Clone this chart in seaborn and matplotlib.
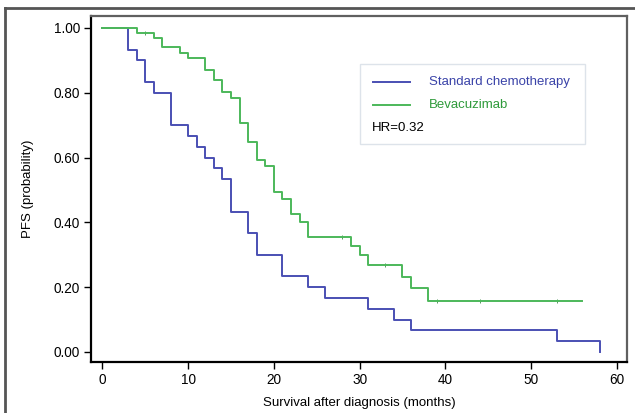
import numpy as np
import pandas as pd
import matplotlib
matplotlib.use('Agg')
import matplotlib.pyplot as plt
from matplotlib.lines import Line2D
from matplotlib.patches import Rectangle
import seaborn as sns

# Kaplan-Meier steps (months, PFS)
std_time = [0, 3, 4, 5, 6, 8, 10, 11, 12, 13, 14, 15, 17, 18, 21, 24, 26, 31, 34, 36, 53, 58]
std_pfs = [1.0, 0.933, 0.9, 0.833, 0.8, 0.7, 0.667, 0.633, 0.6, 0.567, 0.533, 0.433,
           0.367, 0.3, 0.233, 0.2, 0.167, 0.133, 0.1, 0.067, 0.033, 0.0]

bev_time = [0, 4, 6, 7, 9, 10, 12, 13, 14, 15, 16, 17, 18, 19, 20, 21, 22, 23, 24,
            29, 30, 31, 35, 36, 38, 56]
bev_pfs = [1.0, 0.986, 0.969, 0.94, 0.924, 0.907, 0.871, 0.838, 0.802, 0.784, 0.707,
           0.648, 0.594, 0.573, 0.493, 0.471, 0.425, 0.401, 0.355, 0.327, 0.3, 0.269,
           0.232, 0.196, 0.156, 0.156]
bev_censor = [5, 28, 33, 39, 44, 53]

blue = '#4a4fb3'
green = '#4cb85a'

plt.rcParams['font.family'] = ['Liberation Sans', 'DejaVu Sans']

fig = plt.figure(figsize=(6.35, 4.13), dpi=100)
ax = fig.add_axes([91 / 635, 51 / 413, 536 / 635, 346 / 413])

std = pd.DataFrame({'t': std_time, 'p': std_pfs})
bev = pd.DataFrame({'t': bev_time, 'p': bev_pfs})

sns.lineplot(data=std, x='t', y='p', ax=ax, color=blue, lw=1.4,
             drawstyle='steps-post', estimator=None, sort=False)
sns.lineplot(data=bev, x='t', y='p', ax=ax, color=green, lw=1.4,
             drawstyle='steps-post', estimator=None, sort=False)

# censor ticks on the bevacizumab curve
idx = np.searchsorted(bev_time, bev_censor, side='right') - 1
cens = pd.DataFrame({'t': bev_censor, 'p': np.array(bev_pfs)[idx]})
sns.scatterplot(data=cens, x='t', y='p', ax=ax, marker='|', s=5, color='#3a8a45',
                linewidth=0.6)

ax.set_xlim(-1.34, 61.2)
ax.set_ylim(-0.031, 1.037)
ax.set_xticks(range(0, 61, 10))
ax.set_yticks([0, 0.2, 0.4, 0.6, 0.8, 1.0])
ax.set_yticklabels(['0.00', '0.20', '0.40', '0.60', '0.80', '1.00'])
ax.tick_params(direction='out', length=5, width=1, labelsize=9.8, pad=3, colors='black')

for s in ['left', 'bottom']:
    ax.spines[s].set_color('black')
    ax.spines[s].set_linewidth(1.6)
for s in ['top', 'right']:
    ax.spines[s].set_color('#606060')
    ax.spines[s].set_linewidth(1.6)

ax.set_xlabel('Survival after diagnosis (months)', fontsize=9.5)
ax.set_ylabel('PFS (probability)', fontsize=9.5)
ax.xaxis.set_label_coords(0.5, -0.1)
ax.yaxis.set_label_coords(-0.106, 0.5)

# legend box with HR
ax.add_patch(Rectangle((0.502, 0.630), 0.420, 0.231, transform=ax.transAxes,
                       facecolor='white', edgecolor='#dde3ea', lw=1))
ax.add_line(Line2D([0.526, 0.595], [0.810, 0.810], transform=ax.transAxes, color=blue, lw=1.4))
ax.add_line(Line2D([0.526, 0.595], [0.743, 0.743], transform=ax.transAxes, color=green, lw=1.4))
ax.text(0.631, 0.810, 'Standard chemotherapy', transform=ax.transAxes, color='#3a43a8',
        fontsize=9.5, va='center', ha='left')
ax.text(0.631, 0.743, 'Bevacuzimab', transform=ax.transAxes, color='#2e9a3a',
        fontsize=9.5, va='center', ha='left')
ax.text(0.524, 0.676, 'HR=0.32', transform=ax.transAxes, color='black',
        fontsize=9.5, va='center', ha='left')

# outer frame of the original figure
fig.add_artist(Line2D([5 / 635, 5 / 635], [0, 1 - 8 / 413], transform=fig.transFigure,
                      color='#555555', lw=2))
fig.add_artist(Line2D([5 / 635, 1], [1 - 8 / 413, 1 - 8 / 413], transform=fig.transFigure,
                      color='#555555', lw=2))

fig.savefig('out.png', dpi=100)
